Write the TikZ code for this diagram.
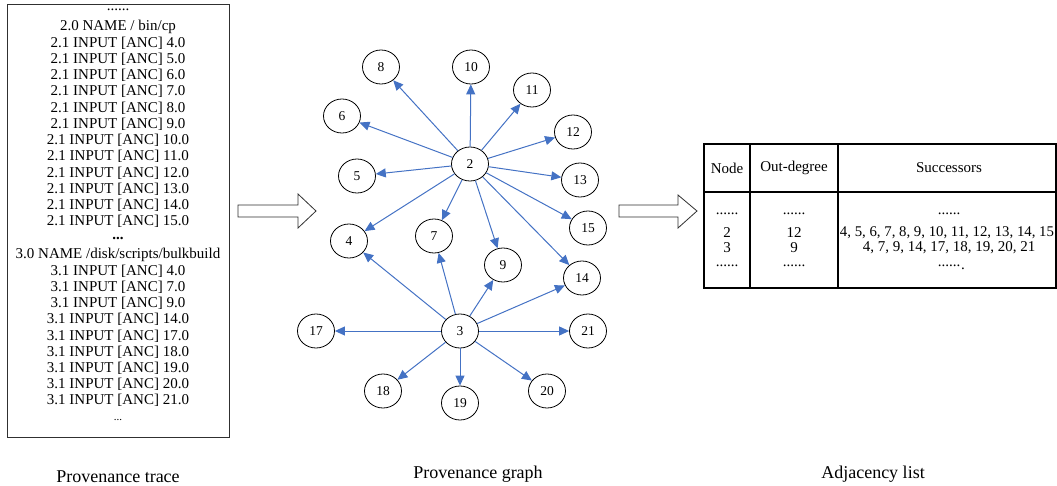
\documentclass[tikz,border=0pt]{standalone}
\usepackage{fontspec}
\setmainfont{Liberation Serif}
\usetikzlibrary{arrows.meta,shapes.geometric}
\definecolor{edgeblue}{HTML}{4472C4}
\definecolor{framegray}{HTML}{303030}
\begin{document}
\begin{tikzpicture}[x=1pt,y=-1pt,
  vertex/.style={ellipse,draw=black,line width=0.8pt,minimum width=37pt,minimum height=34pt,inner sep=0pt,font=\fontsize{13.5}{14}\selectfont},
  edge/.style={draw=edgeblue,line width=1pt,-{Triangle[length=10pt,width=9pt]}},
  traceline/.style={anchor=base,font=\fontsize{15}{16}\selectfont,inner sep=0pt},
  dots/.style={font=\fontsize{15}{16}\selectfont,inner sep=0pt},
  cell/.style={font=\fontsize{15}{16}\selectfont,inner sep=0pt},
  caption/.style={anchor=base,font=\fontsize{18}{20}\selectfont,inner sep=0pt},
  hollow/.style={draw=framegray,line width=0.8pt,fill=white,line join=miter}]
\useasboundingbox (0,0) rectangle (1057,486);

% ---------- provenance trace ----------
\node[draw=framegray,line width=1pt,minimum width=222pt,minimum height=432pt,inner sep=0pt] (tracebox) at (118,221) {};
\node[dots] (tdA) at (118,10) {......};
\foreach \t [count=\i] in {{2.0 NAME / bin/cp},{2.1 INPUT [ANC] 4.0},{2.1 INPUT [ANC] 5.0},{2.1 INPUT [ANC] 6.0},{2.1 INPUT [ANC] 7.0},{2.1 INPUT [ANC] 8.0},{2.1 INPUT [ANC] 9.0},{2.1 INPUT [ANC] 10.0},{2.1 INPUT [ANC] 11.0},{2.1 INPUT [ANC] 12.0},{2.1 INPUT [ANC] 13.0},{2.1 INPUT [ANC] 14.0},{2.1 INPUT [ANC] 15.0}}
  \node[traceline] (ta\i) at (118,{31+16.25*(\i-1)}) {\t};
\node[dots] (tdB) at (118,238) {\textbf{...}};
\foreach \t [count=\i] in {{3.0 NAME /disk/scripts/bulkbuild},{3.1 INPUT [ANC] 4.0},{3.1 INPUT [ANC] 7.0},{3.1 INPUT [ANC] 9.0},{3.1 INPUT [ANC] 14.0},{3.1 INPUT [ANC] 17.0},{3.1 INPUT [ANC] 18.0},{3.1 INPUT [ANC] 19.0},{3.1 INPUT [ANC] 20.0},{3.1 INPUT [ANC] 21.0}}
  \node[traceline] (tb\i) at (118,{259+16.2*(\i-1)}) {\t};
\node[dots,font=\fontsize{11}{12}\selectfont] (tdC) at (118,420) {...};

% ---------- hollow arrows ----------
\draw[hollow] (238,205) -- (298,205) -- (298,194) -- (316,211) -- (298,228) -- (298,217) -- (238,217) -- cycle;
\draw[hollow] (619,205) -- (678,205) -- (678,195) -- (697,211) -- (678,228) -- (678,217) -- (619,217) -- cycle;

% ---------- provenance graph ----------
\node[vertex] (n2) at (470,164) {2};
\node[vertex] (n3) at (460,331) {3};
\node[vertex] (n4) at (349,241) {4};
\node[vertex] (n5) at (357,176) {5};
\node[vertex] (n6) at (342,116) {6};
\node[vertex] (n7) at (434,236) {7};
\node[vertex] (n8) at (381,67) {8};
\node[vertex] (n9) at (503,265) {9};
\node[vertex] (n10) at (471,67) {10};
\node[vertex] (n11) at (532,90) {11};
\node[vertex] (n12) at (573,132) {12};
\node[vertex] (n13) at (580,180) {13};
\node[vertex] (n14) at (582,278) {14};
\node[vertex] (n15) at (588,228) {15};
\node[vertex] (n17) at (316,331) {17};
\node[vertex] (n18) at (383,391) {18};
\node[vertex] (n19) at (460,403) {19};
\node[vertex] (n20) at (547,391) {20};
\node[vertex] (n21) at (588,331) {21};

\foreach \s in {4,5,6,7,8,9,10,11,12,13,14,15}
  \draw[edge] (n2) -- (n\s);
\foreach \s in {4,7,9,14,17,18,19,20,21}
  \draw[edge] (n3) -- (n\s);

% ---------- adjacency list ----------
\node[draw=black,line width=1.2pt,minimum width=352pt,minimum height=144pt,inner sep=0pt] (table) at (880,216) {};
\draw[line width=1.2pt] (table.north west -| 750,0) -- (table.south west -| 750,0);
\draw[line width=1.2pt] (table.north west -| 838,0) -- (table.south west -| 838,0);
\draw[line width=1.2pt] (table.west |- 0,192) -- (table.east |- 0,192);

\node[cell] (hNode) at (727,168) {Node};
\node[cell] (hDeg) at (794,168) {Out-degree};
\node[cell] (hSucc) at (949,168) {Successors};

\node[dots] (c1a) at (727,214) {......};
\node[cell] (c1b) at (727,233) {2};
\node[cell] (c1c) at (727,248) {3};
\node[dots] (c1d) at (727,266) {......};

\node[dots] (c2a) at (794,214) {......};
\node[cell] (c2b) at (794,233) {12};
\node[cell] (c2c) at (794,248) {9};
\node[dots] (c2d) at (794,266) {......};

\node[dots] (c3a) at (949,214) {......};
\node[cell,font=\fontsize{14.8}{16}\selectfont] (c3b) at (947,233) {4, 5, 6, 7, 8, 9, 10, 11, 12, 13, 14, 15};
\node[cell] (c3c) at (949,248) {4, 7, 9, 14, 17, 18, 19, 20, 21};
\node[dots] (c3d) at (949,266) {......};
\node[dots] (c3e) at (963,269) {.};

% ---------- captions ----------
\node[caption] (capA) at (118,482) {Provenance trace};
\node[caption] (capB) at (478,478) {Provenance graph};
\node[caption] (capC) at (873,478) {Adjacency list};
\end{tikzpicture}
\end{document}
